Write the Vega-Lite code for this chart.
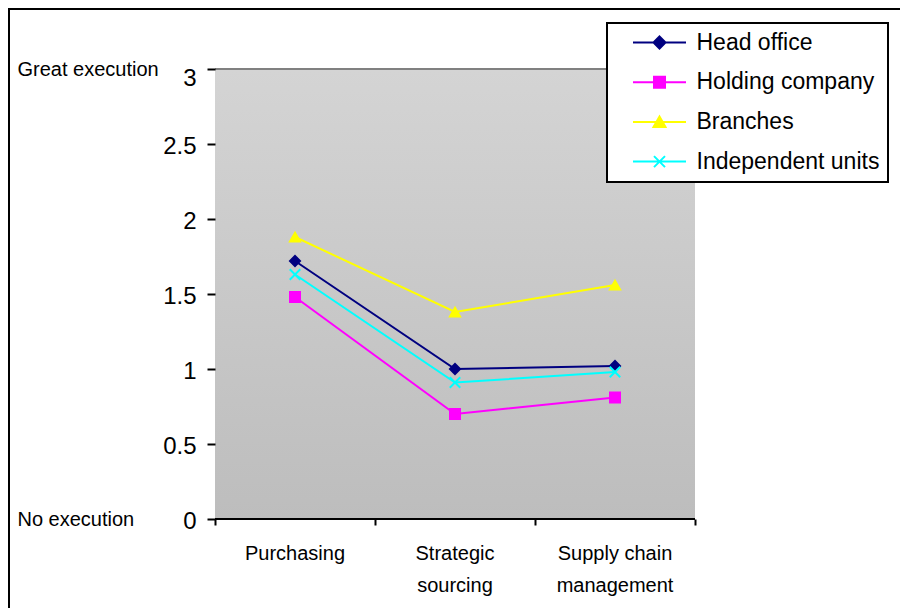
{
  "$schema": "https://vega.github.io/schema/vega-lite/v6.json",
  "width": 891,
  "height": 599,
  "autosize": {"type": "none"},
  "padding": {"left": 9, "top": 9, "right": 0, "bottom": 0},
  "background": "white",
  "config": {
    "font": "Liberation Sans",
    "view": {"stroke": "black", "strokeWidth": 2, "strokeDash": [891, 1490, 599], "fill": "white"},
    "axis": {"labelColor": "black", "labelFont": "Liberation Sans", "grid": false, "title": null},
    "legend": {"strokeWidth": 2}
  },
  "datasets": {
    "scores": [
      {"category": "Purchasing", "series": "Head office", "value": 1.72},
      {"category": "Strategic sourcing", "series": "Head office", "value": 1.0},
      {"category": "Supply chain management", "series": "Head office", "value": 1.02},
      {"category": "Purchasing", "series": "Holding company", "value": 1.48},
      {"category": "Strategic sourcing", "series": "Holding company", "value": 0.7},
      {"category": "Supply chain management", "series": "Holding company", "value": 0.81},
      {"category": "Purchasing", "series": "Branches", "value": 1.88},
      {"category": "Strategic sourcing", "series": "Branches", "value": 1.38},
      {"category": "Supply chain management", "series": "Branches", "value": 1.56},
      {"category": "Purchasing", "series": "Independent units", "value": 1.63},
      {"category": "Strategic sourcing", "series": "Independent units", "value": 0.91},
      {"category": "Supply chain management", "series": "Independent units", "value": 0.98}
    ],
    "areas": [
      {"category": "Purchasing"},
      {"category": "Strategic sourcing"},
      {"category": "Supply chain management"}
    ]
  },
  "layer": [
    {
      "data": {"name": "areas"},
      "mark": {
        "type": "rect",
        "fill": {
          "gradient": "linear", "x1": 0, "y1": 0, "x2": 0, "y2": 1,
          "stops": [{"offset": 0, "color": "#d4d4d4"}, {"offset": 1, "color": "#bdbdbd"}]
        }
      },
      "encoding": {
        "x": {
          "field": "category", "type": "nominal", "sort": null,
          "scale": {
            "domain": ["Purchasing", "Strategic sourcing", "Supply chain management"],
            "range": [206, 686], "paddingInner": 0, "paddingOuter": 0
          },
          "axis": null
        },
        "y": {
          "datum": 0, "type": "quantitative",
          "scale": {"domain": [-0.593333, 3.4], "nice": false, "zero": false},
          "axis": {
            "orient": "left", "offset": -206, "domain": false, "zindex": 1,
            "values": [0, 0.5, 1, 1.5, 2, 2.5, 3], "format": ".1~f",
            "tickSize": 8, "tickWidth": 2, "tickColor": "black",
            "labelFontSize": 24, "labelPadding": 11, "labelBaseline": "middle",
            "labelOffset": {"condition": {"test": "datum.value == 3", "value": 9}, "value": 2}
          }
        },
        "y2": {"datum": 3}
      }
    },
    {
      "data": {"name": "areas"},
      "mark": {"type": "rect", "fill": null, "stroke": "#808080", "strokeWidth": 2},
      "encoding": {
        "x": {"field": "category", "type": "nominal", "axis": null},
        "y": {"datum": 3, "type": "quantitative", "axis": null},
        "y2": {"datum": 3}
      }
    },
    {
      "mark": {"type": "rule", "stroke": "#808080", "strokeWidth": 2},
      "encoding": {
        "x": {"datum": "Supply chain management", "type": "nominal", "bandPosition": 1, "axis": null},
        "y": {"datum": 0, "type": "quantitative", "axis": null},
        "y2": {"datum": 3}
      }
    },
    {
      "data": {"name": "areas"},
      "mark": {"type": "rect", "fill": null, "stroke": "black", "strokeWidth": 2},
      "encoding": {
        "x": {
          "field": "category", "type": "nominal", "sort": null,
          "axis": {
            "orient": "bottom", "offset": -89, "domain": false, "zindex": 1,
            "ticks": true, "tickBand": "extent", "tickSize": 6, "tickWidth": 2, "tickColor": "black",
            "labels": false
          }
        },
        "y": {"datum": 0, "type": "quantitative", "axis": null},
        "y2": {"datum": 0}
      }
    },
    {
      "mark": {"type": "rule", "stroke": "black", "strokeWidth": 2},
      "encoding": {
        "x": {"datum": "Purchasing", "type": "nominal", "bandPosition": 0, "axis": null},
        "y": {
          "datum": 0, "type": "quantitative",
          "axis": {
            "orient": "left", "offset": 0, "domain": false, "ticks": false, "tickSize": 0,
            "values": [0, 3],
            "labelExpr": "datum.value == 3 ? 'Great execution' : 'No execution'",
            "labelAlign": "left", "labelPadding": -8, "labelFontSize": 20, "labelBaseline": "middle"
          }
        },
        "y2": {"datum": 3}
      }
    },
    {
      "data": {"name": "scores"},
      "transform": [{"filter": "datum.series == 'Branches'"}],
      "mark": {"type": "line", "stroke": "#ffff00", "strokeWidth": 2},
      "encoding": {
        "x": {"field": "category", "type": "nominal", "sort": null, "axis": null},
        "y": {"field": "value", "type": "quantitative", "axis": null}
      }
    },
    {
      "data": {"name": "scores"},
      "transform": [{"filter": "datum.series == 'Holding company'"}],
      "mark": {"type": "line", "stroke": "#ff00ff", "strokeWidth": 2},
      "encoding": {
        "x": {"field": "category", "type": "nominal", "sort": null, "axis": null},
        "y": {"field": "value", "type": "quantitative", "axis": null}
      }
    },
    {
      "data": {"name": "scores"},
      "transform": [{"filter": "datum.series == 'Independent units'"}],
      "mark": {"type": "line", "stroke": "#00ffff", "strokeWidth": 2},
      "encoding": {
        "x": {"field": "category", "type": "nominal", "sort": null, "axis": null},
        "y": {"field": "value", "type": "quantitative", "axis": null}
      }
    },
    {
      "data": {"name": "scores"},
      "transform": [{"filter": "datum.series == 'Head office'"}],
      "mark": {"type": "line", "stroke": "#000080", "strokeWidth": 2},
      "encoding": {
        "x": {"field": "category", "type": "nominal", "sort": null, "axis": null},
        "y": {"field": "value", "type": "quantitative", "axis": null}
      }
    },
    {
      "data": {"name": "scores"},
      "transform": [{"filter": "datum.series == 'Head office'"}],
      "mark": {"type": "point", "shape": "diamond", "filled": true, "fill": "#000080", "stroke": "#000080", "size": 115, "strokeWidth": 1.5, "opacity": 1},
      "encoding": {
        "x": {
          "field": "category", "type": "nominal", "sort": null,
          "axis": {
            "orient": "bottom", "offset": -89, "domain": false, "ticks": false, "tickSize": 0,
            "labelAngle": 0, "labelFontSize": 20, "labelPadding": 24, "labelBaseline": "top",
            "labelLineHeight": 32,
            "labelExpr": "datum.value == 'Strategic sourcing' ? ['Strategic', 'sourcing'] : datum.value == 'Supply chain management' ? ['Supply chain', 'management'] : datum.label"
          }
        },
        "y": {"field": "value", "type": "quantitative", "axis": null}
      }
    },
    {
      "data": {"name": "scores"},
      "transform": [{"filter": "datum.series == 'Holding company'"}],
      "mark": {"type": "point", "shape": "square", "filled": true, "fill": "#ff00ff", "stroke": "#ff00ff", "size": 110, "strokeWidth": 1.5, "opacity": 1},
      "encoding": {
        "x": {"field": "category", "type": "nominal", "sort": null, "axis": null},
        "y": {"field": "value", "type": "quantitative", "axis": null}
      }
    },
    {
      "data": {"name": "scores"},
      "transform": [{"filter": "datum.series == 'Branches'"}],
      "mark": {"type": "point", "shape": "triangle-up", "filled": true, "fill": "#ffff00", "stroke": "#ffff00", "size": 120, "strokeWidth": 1.5, "opacity": 1},
      "encoding": {
        "x": {"field": "category", "type": "nominal", "sort": null, "axis": null},
        "y": {"field": "value", "type": "quantitative", "axis": null}
      }
    },
    {
      "data": {"name": "scores"},
      "transform": [{"filter": "datum.series == 'Independent units'"}],
      "mark": {"type": "point", "shape": "M-1,-1L1,1M-1,1L1,-1", "filled": false, "fill": null, "stroke": "#00ffff", "size": 110, "strokeWidth": 2, "opacity": 1},
      "encoding": {
        "x": {"field": "category", "type": "nominal", "sort": null, "axis": null},
        "y": {"field": "value", "type": "quantitative", "axis": null}
      }
    },
    {
      "data": {"name": "scores"},
      "mark": {"type": "point", "filled": true, "opacity": 0, "strokeWidth": 2},
      "encoding": {
        "x": {"field": "category", "type": "nominal", "sort": null, "axis": null},
        "y": {"field": "value", "type": "quantitative", "axis": null},
        "shape": {
          "field": "series", "type": "nominal",
          "scale": {
            "domain": ["Head office", "Holding company", "Branches", "Independent units"],
            "range": [
              "M-5.3,0L5.3,0M0,-1.2L1.2,0L0,1.2L-1.2,0Z",
              "M-5.3,0L5.3,0M-1.1,-1.1L1.1,-1.1L1.1,1.1L-1.1,1.1Z",
              "M-5.3,0L5.3,0M0,-1.1L1.2,1L-1.2,1Z",
              "M-5.3,0L5.3,0M-1.1,-1.1L1.1,1.1M-1.1,1.1L1.1,-1.1"
            ]
          },
          "legend": {
            "orient": "none", "legendX": 598, "legendY": 14, "title": null,
            "strokeColor": "black", "fillColor": "white", "padding": 8,
            "labelFontSize": 23, "labelColor": "black", "labelLimit": 400, "symbolSize": 100,
            "symbolStrokeWidth": 2, "symbolOpacity": 1,
            "rowPadding": 15.7, "symbolOffset": 33, "labelOffset": 25.5
          }
        },
        "fill": {
          "field": "series", "type": "nominal",
          "scale": {
            "domain": ["Head office", "Holding company", "Branches", "Independent units"],
            "range": ["#000080", "#ff00ff", "#ffff00", "#00ffff"]
          },
          "legend": {
            "orient": "none", "legendX": 598, "legendY": 14, "title": null,
            "strokeColor": "black", "fillColor": "white", "padding": 8,
            "labelFontSize": 23, "labelColor": "black", "labelLimit": 400, "symbolSize": 100,
            "symbolStrokeWidth": 2, "symbolOpacity": 1,
            "rowPadding": 15.7, "symbolOffset": 33, "labelOffset": 25.5
          }
        },
        "stroke": {
          "field": "series", "type": "nominal",
          "scale": {
            "domain": ["Head office", "Holding company", "Branches", "Independent units"],
            "range": ["#000080", "#ff00ff", "#ffff00", "#00ffff"]
          },
          "legend": {
            "orient": "none", "legendX": 598, "legendY": 14, "title": null,
            "strokeColor": "black", "fillColor": "white", "padding": 8,
            "labelFontSize": 23, "labelColor": "black", "labelLimit": 400, "symbolSize": 100,
            "symbolStrokeWidth": 2, "symbolOpacity": 1,
            "rowPadding": 15.7, "symbolOffset": 33, "labelOffset": 25.5
          }
        }
      }
    }
  ],
  "resolve": {
    "axis": {"x": "independent", "y": "independent"}
  }
}
